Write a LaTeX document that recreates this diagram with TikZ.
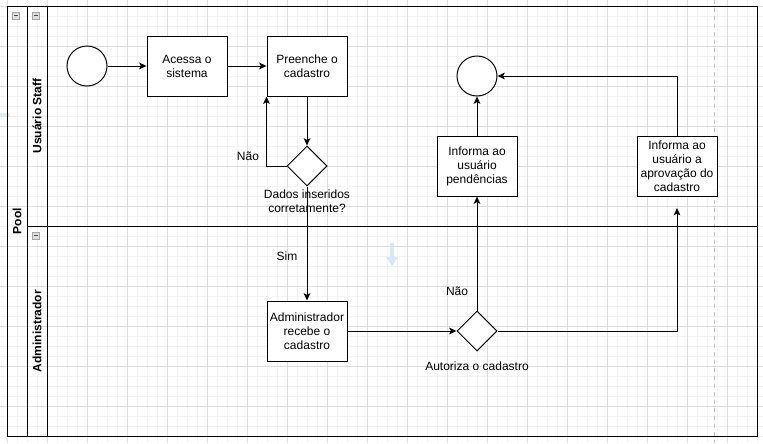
\documentclass[tikz,border=0pt]{standalone}
\usepackage{fontspec}
\setmainfont{Liberation Sans}
\usetikzlibrary{shapes.geometric,arrows.meta}
\definecolor{gridminor}{RGB}{243,243,243}
\definecolor{gridmajor}{RGB}{222,222,222}
\definecolor{pagebreak}{RGB}{192,192,192}
\definecolor{hintblue}{RGB}{205,228,246}
\begin{document}
\begin{tikzpicture}[x=0.75pt,y=-0.75pt,
  every node/.style={font=\fontsize{9pt}{10.5pt}\selectfont, text=black},
  ln/.style={line width=0.75pt, draw=black},
  box/.style={ln, rectangle, minimum width=60pt, minimum height=45pt, align=center, inner sep=1pt, fill=white},
  evt/.style={ln, circle, minimum size=30pt, inner sep=0pt, fill=white},
  gate/.style={ln, diamond, minimum width=30pt, minimum height=30pt, inner sep=0pt, fill=white},
  flow/.style={ln, -{Stealth[length=5.5pt,width=5pt,inset=1.3pt]}},
  lbl/.style={align=center, inner sep=0pt},
  lanelbl/.style={rotate=90, font=\fontsize{9pt}{10.5pt}\selectfont\bfseries, inner sep=0pt},
  collapse/.style={draw=gray!70, fill=gray!25, line width=0.3pt, minimum size=5.5pt, inner sep=0pt}
]
\useasboundingbox (0,0) rectangle (763,443);
\fill[white] (0,0) rectangle (763,443);
% grid
\foreach \x in {7,17,...,757} \draw[gridminor, line width=0.5pt] (\x,0) -- (\x,443);
\foreach \y in {6,16,...,436} \draw[gridminor, line width=0.5pt] (0,\y) -- (763,\y);
\foreach \x in {7,47,...,727} \draw[gridmajor, line width=0.5pt] (\x,0) -- (\x,443);
\foreach \y in {6,46,...,406} \draw[gridmajor, line width=0.5pt] (0,\y) -- (763,\y);
% page break line
\draw[pagebreak, dashed, line width=0.5pt] (714,0) -- (714,443);
% hint artifacts
\fill[hintblue, opacity=0.8] (390,243) -- (394,243) -- (394,257) -- (398,257) -- (392,266) -- (386,257) -- (390,257) -- cycle;
\fill[hintblue, opacity=0.6] (0,113) rectangle (10,117);
% pool
\draw[ln] (7,6) rectangle (757,436);
\draw[ln] (27,6) -- (27,436);
\draw[ln] (47,6) -- (47,436);
\draw[ln] (27,226) -- (757,226);
\node[lanelbl] (poollbl) at (17,221) {Pool};
\node[lanelbl] (staff) at (37,116) {Usuário Staff};
\node[lanelbl] (adminlbl) at (37,331) {Administrador};
\foreach \cx/\cy/\nm in {16/15.5/c1, 36/15.5/c2, 36/235.5/c3} {
  \node[collapse] (\nm) at (\cx,\cy) {};
  \draw[black!70, line width=0.5pt] ([xshift=-1.5pt]\nm.center) -- ([xshift=1.5pt]\nm.center);
}
% nodes
\node[evt] (start) at (87,66) {};
\node[box] (acessa) at (187,66) {Acessa o\\sistema};
\node[box] (preenche) at (307,66) {Preenche o\\cadastro};
\node[gate] (d1) at (307,166) {};
\node[lbl] (d1lbl) at (307,201) {Dados inseridos\\corretamente?};
\node[lbl] (nao1) at (248,156) {Não};
\node[lbl] (sim) at (287,256) {Sim};
\node[box] (admin) at (307,331) {Administrador\\recebe o\\cadastro};
\node[gate] (d2) at (477,331) {};
\node[lbl] (d2lbl) at (477,366) {Autoriza o cadastro};
\node[lbl] (nao2) at (457,291) {Não};
\node[box] (pend) at (477,166) {Informa ao\\usuário\\pendências};
\node[evt] (fim) at (477,76) {};
\node[box] (aprov) at (677,166) {Informa ao\\usuário a\\aprovação do\\cadastro};
\coordinate (aprovin) at (677,208);
% connectors
\draw[flow] (start) -- (acessa);
\draw[flow] (acessa) -- (preenche);
\draw[flow] (preenche) -- (d1.north);
\draw[flow] (d1.west) -| (preenche.south west);
\draw[flow] (d1.south) -- (admin.north);
\draw[flow] (admin.east) -- (d2.west);
\draw[flow] (d2.north) -- (pend.south);
\draw[flow] (pend.north) -- (fim.south);
\draw[flow] (d2.east) -| (aprovin);
\draw[flow] (aprov.north) |- (fim.east);
\end{tikzpicture}
\end{document}
